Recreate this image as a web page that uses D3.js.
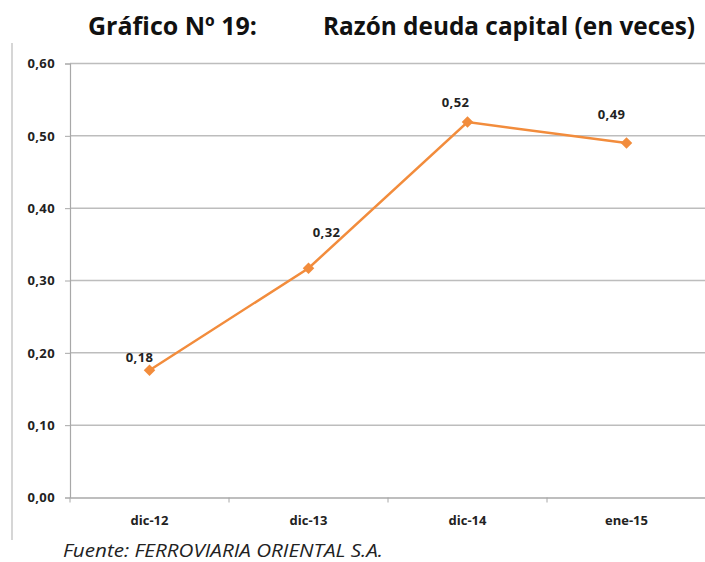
<!DOCTYPE html>
<html>
<head>
<meta charset="utf-8">
<script src="https://cdn.jsdelivr.net/npm/d3@7"></script>
<style>
  body { margin: 0; background: #fff; }
  svg { display: block; }
</style>
</head>
<body>
<div id="chart"></div>
<script>
// Data
const categories = ['dic-12', 'dic-13', 'dic-14', 'ene-15'];
const values = [0.176, 0.317, 0.519, 0.490];
const valueLabels = ['0,18', '0,32', '0,52', '0,49'];
const yTicks = [0, 0.1, 0.2, 0.3, 0.4, 0.5, 0.6];

// label placement relative to each point (dx, dy)
const labelShift = [[-10, -8], [18, -31], [-12, -15], [-15, -24]];

const W = 705, H = 562;
const margin = { top: 63.5, right: -1, bottom: 64.5, left: 70 };
const width = W - margin.left - margin.right;
const height = H - margin.top - margin.bottom;
const font = '"Open Sans", Lato, sans-serif';
const orange = '#F28C3C';
const labelSize = '13px';

const svg = d3.select('#chart').append('svg')
  .attr('width', W)
  .attr('height', H);

// Title
svg.append('text')
  .attr('x', 88).attr('y', 35)
  .attr('textLength', 169).attr('lengthAdjust', 'spacingAndGlyphs')
  .style('font-family', font).style('font-weight', 'bold').style('font-size', '25px')
  .attr('fill', '#111')
  .text('Gráfico Nº 19:');
svg.append('text')
  .attr('x', 323).attr('y', 35)
  .attr('textLength', 372).attr('lengthAdjust', 'spacingAndGlyphs')
  .style('font-family', font).style('font-weight', 'bold').style('font-size', '25px')
  .attr('fill', '#111')
  .text('Razón deuda capital (en veces)');

// left frame line
svg.append('line')
  .attr('x1', 12).attr('x2', 12).attr('y1', 43).attr('y2', 540)
  .attr('stroke', '#c8c8c8').attr('stroke-width', 1.5);

const g = svg.append('g')
  .attr('transform', `translate(${margin.left},${margin.top})`);

const x = d3.scaleBand().domain(categories).range([0, width]);
const y = d3.scaleLinear().domain([0, 0.6]).range([height, 0]);

// Gridlines
g.append('g')
  .selectAll('line')
  .data(yTicks.filter(d => d > 0))
  .enter().append('line')
  .attr('x1', 0).attr('x2', width)
  .attr('y1', d => y(d)).attr('y2', d => y(d))
  .attr('stroke', '#bdbdbd').attr('stroke-width', 1.5);

// Y axis
const yAxis = g.append('g')
  .call(d3.axisLeft(y).tickValues(yTicks).tickSize(5).tickPadding(10)
    .tickFormat(d => d3.format('.2f')(d).replace('.', ',')));
yAxis.select('.domain').attr('stroke', '#a8a8a8').attr('stroke-width', 1.2);
yAxis.selectAll('.tick line').attr('stroke', '#a8a8a8');
yAxis.selectAll('text')
  .style('font-family', font).style('font-weight', 'bold').style('font-size', labelSize)
  .style('letter-spacing', '0.4px')
  .attr('fill', '#222');

// X axis
const xAxis = g.append('g')
  .attr('transform', `translate(0,${height})`)
  .call(d3.axisBottom(x).tickSize(0).tickPadding(18));
xAxis.select('.domain').attr('stroke', '#a8a8a8').attr('stroke-width', 1.5);
xAxis.selectAll('text')
  .style('font-family', font).style('font-weight', 'bold').style('font-size', labelSize)
  .attr('fill', '#222');
xAxis.append('g')
  .selectAll('line')
  .data(categories)
  .enter().append('line')
  .attr('x1', d => x(d)).attr('x2', d => x(d))
  .attr('y1', 0).attr('y2', 5)
  .attr('stroke', '#a8a8a8');

// Line
const cx = (d, i) => x(categories[i]) + x.bandwidth() / 2;
const line = d3.line()
  .x((d, i) => cx(d, i))
  .y(d => y(d));

g.append('path')
  .datum(values)
  .attr('d', line)
  .attr('fill', 'none')
  .attr('stroke', orange)
  .attr('stroke-width', 2.5);

// Markers
g.selectAll('.marker')
  .data(values)
  .enter().append('path')
  .attr('class', 'marker')
  .attr('d', d3.symbol().type(d3.symbolDiamond2).size(85))
  .attr('transform', (d, i) => `translate(${cx(d, i)},${y(d)})`)
  .attr('fill', orange);

// Value labels
g.selectAll('.vlabel')
  .data(values)
  .enter().append('text')
  .attr('class', 'vlabel')
  .attr('x', (d, i) => cx(d, i) + labelShift[i][0])
  .attr('y', (d, i) => y(d) + labelShift[i][1])
  .attr('text-anchor', 'middle')
  .style('font-family', font).style('font-weight', 'bold').style('font-size', labelSize)
  .style('letter-spacing', '0.4px')
  .attr('fill', '#222')
  .text((d, i) => valueLabels[i]);

// Source
svg.append('text')
  .attr('x', 63).attr('y', 557)
  .attr('textLength', 320).attr('lengthAdjust', 'spacingAndGlyphs')
  .style('font-family', font).style('font-style', 'italic').style('font-size', '18px')
  .attr('fill', '#222')
  .text('Fuente: FERROVIARIA ORIENTAL S.A.');
</script>
</body>
</html>
